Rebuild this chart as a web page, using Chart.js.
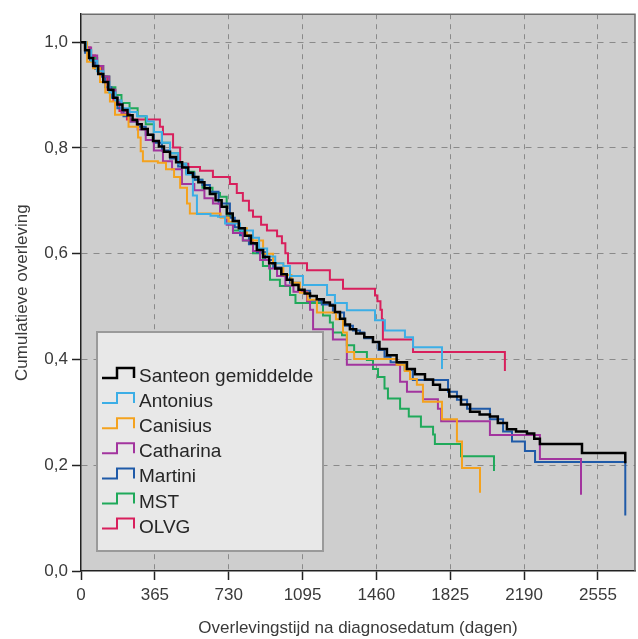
<!DOCTYPE html>
<html>
<head>
<meta charset="utf-8">
<script src="https://cdn.jsdelivr.net/npm/chart.js@4/dist/chart.umd.min.js"></script>
<style>
  html, body { margin: 0; padding: 0; background: #ffffff; }
  #wrap { width: 638px; height: 639px; }
</style>
</head>
<body>
<div id="wrap"><canvas id="grafico" width="638" height="639"></canvas></div>
<script>
// ticks
const xTicks = [0, 365, 730, 1095, 1460, 1825, 2190, 2555];
const yTicks = [0, 0.2, 0.4, 0.6, 0.8, 1.0];

const labels = ["Santeon gemiddelde", "Antonius", "Canisius", "Catharina", "Martini", "MST", "OLVG"];
const colors = ["#000000", "#3caee6", "#f4a21e", "#a2349e", "#1f5aa8", "#1fa95a", "#d81f5c"];

// [dagen, cumulatieve overleving]
const santeon = [[0,1],[20,0.985],[40,0.97],[60,0.955],[85,0.94],[110,0.925],[135,0.91],[160,0.895],[180,0.882],[205,0.872],[230,0.862],[255,0.853],[277,0.845],[300,0.836],[330,0.825],[356,0.813],[385,0.803],[410,0.793],[440,0.783],[470,0.773],[500,0.763],[530,0.753],[553,0.745],[580,0.735],[610,0.724],[637,0.713],[665,0.701],[695,0.689],[721,0.676],[750,0.662],[780,0.648],[810,0.634],[840,0.62],[869,0.607],[900,0.594],[930,0.582],[960,0.572],[990,0.561],[1017,0.551],[1045,0.541],[1075,0.532],[1105,0.525],[1132,0.52],[1165,0.514],[1200,0.508],[1230,0.502],[1255,0.49],[1280,0.477],[1305,0.466],[1329,0.457],[1360,0.449],[1400,0.442],[1443,0.433],[1475,0.42],[1512,0.408],[1560,0.395],[1611,0.382],[1650,0.372],[1700,0.362],[1740,0.352],[1774,0.343],[1820,0.33],[1878,0.315],[1923,0.301],[1970,0.296],[2021,0.292],[2060,0.28],[2105,0.268],[2150,0.264],[2204,0.26],[2240,0.25],[2268,0.24],[2476,0.223],[2690,0.204]];
const antonius = [[0,1],[25,0.985],[50,0.965],[80,0.945],[110,0.925],[140,0.905],[170,0.89],[200,0.875],[240,0.868],[277,0.86],[326,0.85],[360,0.83],[400,0.81],[440,0.79],[480,0.77],[520,0.75],[553,0.71],[573,0.675],[640,0.672],[677,0.67],[712,0.657],[786,0.644],[850,0.63],[880,0.61],[920,0.595],[960,0.582],[1000,0.577],[1033,0.558],[1097,0.541],[1216,0.522],[1255,0.507],[1314,0.493],[1453,0.474],[1502,0.455],[1601,0.442],[1641,0.423],[1784,0.382]];
const canisius = [[0,1],[30,0.963],[60,0.951],[94,0.925],[120,0.905],[143,0.888],[168,0.863],[235,0.84],[282,0.82],[295,0.794],[306,0.775],[380,0.772],[420,0.76],[460,0.745],[490,0.725],[524,0.695],[538,0.676],[690,0.668],[730,0.66],[780,0.648],[820,0.635],[850,0.625],[900,0.6],[949,0.582],[1000,0.56],[1040,0.545],[1082,0.526],[1120,0.513],[1166,0.489],[1260,0.476],[1295,0.451],[1314,0.414],[1350,0.401],[1560,0.39],[1600,0.378],[1626,0.363],[1660,0.352],[1690,0.32],[1784,0.287],[1858,0.245],[1883,0.195],[1972,0.148]];
const catharina = [[0,1],[25,0.99],[50,0.975],[80,0.955],[110,0.935],[140,0.91],[170,0.885],[200,0.865],[240,0.85],[280,0.835],[320,0.815],[360,0.795],[405,0.775],[450,0.76],[499,0.732],[560,0.72],[610,0.705],[652,0.695],[687,0.67],[720,0.655],[751,0.639],[800,0.625],[850,0.605],[885,0.588],[930,0.572],[969,0.558],[1010,0.54],[1050,0.528],[1117,0.51],[1132,0.494],[1147,0.457],[1245,0.438],[1314,0.39],[1577,0.358],[1611,0.339],[1690,0.325],[1764,0.307],[1780,0.283],[2021,0.257],[2268,0.212],[2471,0.144]];
const martini = [[0,1],[20,0.98],[45,0.965],[70,0.95],[95,0.935],[120,0.915],[150,0.895],[180,0.875],[210,0.86],[240,0.85],[282,0.84],[320,0.825],[360,0.81],[400,0.795],[440,0.78],[480,0.765],[520,0.752],[560,0.74],[600,0.73],[637,0.717],[680,0.695],[736,0.668],[760,0.65],[786,0.635],[830,0.618],[870,0.603],[910,0.588],[950,0.574],[990,0.56],[1033,0.545],[1080,0.53],[1132,0.511],[1190,0.504],[1245,0.489],[1300,0.464],[1344,0.455],[1379,0.451],[1400,0.44],[1443,0.433],[1470,0.418],[1500,0.405],[1530,0.395],[1562,0.391],[1600,0.38],[1640,0.361],[1814,0.339],[1858,0.324],[1908,0.307],[2021,0.287],[2086,0.264],[2130,0.245],[2194,0.227],[2244,0.206],[2690,0.105]];
const mst = [[0,1],[25,0.985],[50,0.97],[80,0.955],[110,0.935],[140,0.915],[170,0.9],[200,0.885],[240,0.875],[280,0.86],[320,0.845],[360,0.83],[400,0.81],[440,0.79],[480,0.77],[520,0.755],[560,0.74],[600,0.725],[650,0.715],[687,0.708],[720,0.672],[751,0.644],[800,0.625],[850,0.601],[899,0.577],[934,0.551],[983,0.539],[1033,0.522],[1060,0.507],[1196,0.483],[1230,0.47],[1245,0.451],[1290,0.446],[1314,0.427],[1350,0.414],[1413,0.399],[1443,0.382],[1468,0.367],[1500,0.345],[1517,0.326],[1577,0.307],[1620,0.292],[1680,0.273],[1740,0.258],[1749,0.24],[1878,0.217],[2041,0.189]];
const olvg = [[0,1],[20,0.99],[45,0.975],[70,0.955],[100,0.935],[130,0.91],[160,0.89],[190,0.87],[227,0.854],[390,0.84],[405,0.826],[455,0.801],[490,0.77],[530,0.764],[588,0.757],[652,0.745],[736,0.732],[770,0.715],[800,0.7],[830,0.682],[850,0.67],[890,0.655],[919,0.644],[969,0.633],[993,0.62],[1010,0.601],[1023,0.582],[1117,0.569],[1230,0.551],[1295,0.534],[1453,0.521],[1465,0.51],[1480,0.494],[1487,0.476],[1492,0.438],[1641,0.414],[2095,0.378]];

const series = [santeon, antonius, canisius, catharina, martini, mst, olvg];

const fuente = '"Liberation Sans", Arial, sans-serif';

function komma (v) {
  return v.toFixed(1).replace(".", ",");
}

// fondo gris del area de trazado
const fondo = {
  id: "fondo",
  beforeDraw (chart) {
    const a = chart.chartArea;
    const ctx = chart.ctx;
    ctx.save();
    ctx.fillStyle = "#cecece";
    ctx.fillRect(a.left, a.top, a.right - a.left, a.bottom - a.top);
    ctx.restore();
  },
  afterDatasetsDraw (chart) {
    const a = chart.chartArea;
    const ctx = chart.ctx;
    ctx.save();
    ctx.strokeStyle = "#6e6e6e";
    ctx.lineWidth = 1.5;
    ctx.beginPath();
    ctx.moveTo(a.left, a.top);
    ctx.lineTo(a.right, a.top);
    ctx.lineTo(a.right, a.bottom);
    ctx.stroke();
    ctx.restore();
  }
};

// leyenda dentro del grafico
const leyenda = {
  id: "leyenda",
  afterDraw (chart) {
    const ctx = chart.ctx;
    ctx.save();
    ctx.fillStyle = "#e8e8e8";
    ctx.fillRect(97, 332, 226, 219);
    ctx.strokeStyle = "#9a9a9a";
    ctx.lineWidth = 2;
    ctx.strokeRect(97, 332, 226, 219);
    chart.data.datasets.forEach(function (ds, i) {
      const y = 375 + i * 25.1;
      ctx.strokeStyle = ds.borderColor;
      ctx.lineWidth = i === 0 ? 2.5 : 2;
      ctx.beginPath();
      ctx.moveTo(102, y + 3);
      ctx.lineTo(117, y + 3);
      ctx.lineTo(117, y - 7);
      ctx.lineTo(134, y - 7);
      ctx.lineTo(134, y + 3);
      ctx.stroke();
      ctx.fillStyle = "#262626";
      ctx.font = "19px " + fuente;
      ctx.textBaseline = "alphabetic";
      ctx.textAlign = "left";
      ctx.fillText(ds.label, 139, y + 7);
    });
    ctx.restore();
  }
};

const datasets = series.map(function (s, i) {
  return {
    label: labels[i],
    data: s.map(function (p) { return { x: p[0], y: p[1] }; }),
    borderColor: colors[i],
    borderWidth: i === 0 ? 2.5 : 2,
    stepped: true,
    pointRadius: 0,
    fill: false
  };
});

const gridColor = function (c) {
  return c.tick && c.tick.value === 0 ? "rgba(0,0,0,0)" : "#8a8a8a";
};

new Chart(document.getElementById("grafico").getContext("2d"), {
  type: "line",
  data: { datasets: datasets },
  options: {
    responsive: false,
    animation: false,
    layout: { padding: { left: 0, top: 9, right: 3, bottom: 0 } },
    plugins: {
      legend: { display: false },
      tooltip: { enabled: false }
    },
    scales: {
      x: {
        type: "linear",
        min: 0,
        max: 2738,
        afterBuildTicks: function (scale) { scale.ticks = xTicks.map(function (v) { return { value: v }; }); },
        afterFit: function (scale) { scale.height = 68; },
        ticks: {
          color: "#3a3a3a",
          font: { family: fuente, size: 17 },
          padding: 5,
          maxRotation: 0,
          callback: function (v) { return String(v); }
        },
        grid: { color: gridColor, lineWidth: 1, tickLength: 9, tickColor: "#222222", tickWidth: 1.5 },
        border: { color: "#222222", width: 1.5, dash: [5, 5] },
        title: {
          display: true,
          text: "Overlevingstijd na diagnosedatum (dagen)",
          color: "#3a3a3a",
          font: { family: fuente, size: 17 },
          padding: { top: 0, bottom: 0 }
        }
      },
      y: {
        type: "linear",
        min: 0,
        max: 1.053,
        afterBuildTicks: function (scale) { scale.ticks = yTicks.map(function (v) { return { value: v }; }); },
        afterFit: function (scale) { scale.width = 81; },
        ticks: {
          color: "#3a3a3a",
          font: { family: fuente, size: 17 },
          padding: 4,
          callback: function (v) { return komma(v); }
        },
        grid: { color: gridColor, lineWidth: 1, tickLength: 9, tickColor: "#222222", tickWidth: 1.5 },
        border: { color: "#222222", width: 1.5, dash: [6, 6] },
        title: {
          display: true,
          text: "Cumulatieve overleving",
          color: "#3a3a3a",
          font: { family: fuente, size: 17 },
          padding: { top: 12, bottom: 0 }
        }
      }
    }
  },
  plugins: [fondo, leyenda]
});
</script>
</body>
</html>
